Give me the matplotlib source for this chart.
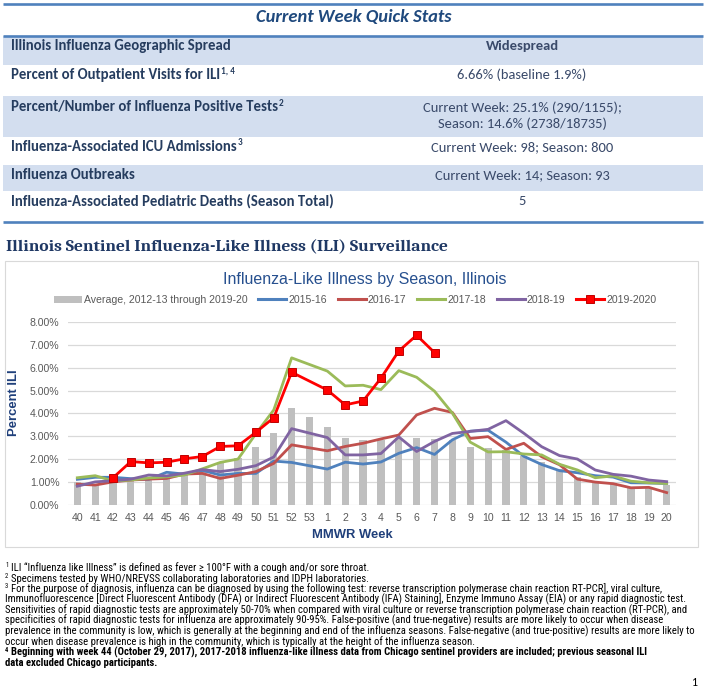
import matplotlib
matplotlib.use('Agg')
import matplotlib.pyplot as plt
import numpy as np
from matplotlib import font_manager as fm
from matplotlib.patches import Rectangle, Patch
from matplotlib.lines import Line2D
from matplotlib.ticker import FuncFormatter, MultipleLocator

# ---------------- data ----------------
weeks = ['40', '41', '42', '43', '44', '45', '46', '47', '48', '49', '50', '51', '52', '53',
         '1', '2', '3', '4', '5', '6', '7', '8', '9', '10', '11', '12', '13', '14', '15',
         '16', '17', '18', '19', '20']
nan = float('nan')
avg_2012_2020 = [0.98, 0.88, 1.03, 1.08, 1.10, 1.14, 1.30, 1.52, 1.88, 2.03, 2.54, 3.12, 4.23, 3.82,
                 3.42, 2.93, 2.83, 2.85, 2.93, 2.93, 2.86, 2.83, 2.54, 2.47, 2.38, 2.14, 1.85, 1.55,
                 1.20, 1.02, 0.96, 0.75, 0.72, 0.88]
s2015_16 = [1.11, 1.20, 1.20, 1.14, 1.11, 1.42, 1.34, 1.50, 1.30, 1.37, 1.37, 1.91, 1.85, nan,
            1.56, 1.86, 1.78, 1.87, 2.25, 2.50, 2.20, 2.84, 3.22, 3.26, 2.74, 2.12, 1.76, 1.49,
            1.40, 1.27, 1.21, 0.96, 0.95, 0.93]
s2016_17 = [0.90, 0.86, 1.00, 1.08, 1.12, 1.15, 1.34, 1.37, 1.15, 1.29, 1.45, 1.81, 2.62, nan,
            2.36, 2.55, 2.69, 2.88, 3.05, 3.93, 4.22, 4.04, 2.90, 2.98, 2.42, 2.69, 2.10, 1.75,
            1.12, 0.99, 0.92, 0.74, 0.76, 0.53]
s2017_18 = [1.18, 1.27, 1.04, 1.08, 1.17, 1.22, 1.30, 1.57, 1.85, 2.00, 3.11, 4.15, 6.43, nan,
            5.85, 5.20, 5.23, 5.04, 5.87, 5.58, 4.97, 4.01, 2.74, 2.31, 2.32, 2.22, 2.18, 1.77,
            1.52, 1.18, 1.26, 1.03, 0.96, 0.93]
s2018_19 = [0.81, 1.00, 1.05, 1.12, 1.30, 1.26, 1.38, 1.54, 1.45, 1.55, 1.71, 2.09, 3.33, nan,
            2.94, 2.18, 2.18, 2.24, 2.97, 2.33, 2.77, 3.12, 3.21, 3.30, 3.68, 3.13, 2.54, 2.15,
            2.00, 1.52, 1.33, 1.25, 1.08, 1.01]
s2019_20 = [nan, nan, 1.18, 1.89, 1.83, 1.86, 2.01, 2.11, 2.55, 2.58, 3.17, 3.81, 5.80, nan,
            5.02, 4.37, 4.54, 5.54, 6.73, 7.42, 6.66, nan, nan, nan, nan, nan, nan, nan,
            nan, nan, nan, nan, nan, nan]
series_names = ['2015-16', '2016-17', '2017-18', '2018-19', '2019-2020']
avg_name = 'Average, 2012-13 through 2019-20'

stat_labels = ["Illinois Influenza Geographic Spread",
               "Percent of Outpatient Visits for ILI",
               "Percent/Number of Influenza Positive Tests",
               "Influenza-Associated ICU Admissions",
               "Influenza Outbreaks",
               "Influenza-Associated Pediatric Deaths (Season Total)"]
stat_label_sups = ["", "1, 4", "2", "3", "", ""]
stat_values = [["Widespread"],
               ["6.66% (baseline 1.9%)"],
               ["Current Week: 25.1% (290/1155);", "Season: 14.6% (2738/18735)"],
               ["Current Week: 98; Season: 800"],
               ["Current Week: 14; Season: 93"],
               ["5"]]

footnotes = [
    ("1", "ILI \u201cInfluenza like Illness\u201d is defined as fever \u2265 100\u00b0F with a cough and/or sore throat.", False),
    ("2", "Specimens tested by WHO/NREVSS collaborating laboratories and IDPH laboratories.", False),
    ("3", "For the purpose of diagnosis, influenza can be diagnosed by using the following test: reverse transcription polymerase chain reaction RT-PCR], viral culture,", False),
    ("", "Immunofluorescence [Direct Fluorescent Antibody (DFA) or Indirect Fluorescent Antibody (IFA) Staining], Enzyme Immuno Assay (EIA) or any rapid diagnostic test.", False),
    ("", "Sensitivities of rapid diagnostic tests are approximately 50-70% when compared with viral culture or reverse transcription polymerase chain reaction (RT-PCR), and", False),
    ("", "specificities of rapid diagnostic tests for influenza are approximately 90-95%. False-positive (and true-negative) results are more likely to occur when disease", False),
    ("", "prevalence in the community is low, which is generally at the beginning and end of the influenza seasons. False-negative (and true-positive) results are more likely to", False),
    ("", "occur when disease prevalence is high in the community, which is typically at the height of the influenza season.", False),
    ("4", "Beginning with week 44 (October 29, 2017), 2017-2018 influenza-like illness data from Chicago sentinel providers are included; previous seasonal ILI", True),
    ("", "data excluded Chicago participants.", True),
]

# ---------------- setup ----------------
W, H, DPI = 714, 691, 100
names = {f.name for f in fm.fontManager.ttflist}


def pick(*cands):
    for c in cands:
        if c in names:
            return c
    return 'DejaVu Sans'


F_CAL = pick('Carlito', 'Lato', 'Open Sans')
F_CAM = pick('Caladea', 'Liberation Serif', 'DejaVu Serif')
F_ARIAL = pick('Liberation Sans', 'Arimo', 'DejaVu Sans')

# narrow font for the footnotes (Arial Narrow look), with fallbacks
F_NARROW, NARROW_STRETCH = None, 'normal'
for cand in ('Liberation Sans Narrow', 'Arial Narrow', 'Roboto Condensed',
             'Noto Sans Condensed', 'DejaVu Sans Condensed', 'Open Sans Condensed'):
    if cand in names:
        F_NARROW = cand
        break
if F_NARROW is None:
    for f in fm.fontManager.ttflist:
        if f.name in ('Liberation Sans', 'Noto Sans', 'DejaVu Sans', 'Roboto', 'Open Sans') \
                and str(f.stretch) in ('condensed', 'semi-condensed', '500', '400') is False:
            pass
    cond = [f for f in fm.fontManager.ttflist
            if f.name in ('Liberation Sans', 'Noto Sans', 'DejaVu Sans', 'Roboto', 'Open Sans')
            and str(f.stretch) in ('condensed', 'semi-condensed', 'extra-condensed')]
    if cond:
        F_NARROW, NARROW_STRETCH = cond[0].name, str(cond[0].stretch)
    else:
        F_NARROW = F_ARIAL

fig = plt.figure(figsize=(W / DPI, H / DPI), dpi=DPI)
fig.patch.set_facecolor('white')
renderer = fig.canvas.get_renderer()

bg = fig.add_axes([0, 0, 1, 1])
bg.set_xlim(0, W)
bg.set_ylim(H, 0)
bg.axis('off')


def fit_size(s, target, family, weight='normal', style='normal', base=10.0, stretch='normal'):
    t = bg.text(0, 0, s, fontsize=base, family=[family, 'DejaVu Sans'], weight=weight,
                style=style, fontstretch=stretch)
    w = t.get_window_extent(renderer=renderer).width
    t.remove()
    return base * target / w


def txt(x, y, s, **kw):
    fam = kw.pop('family', F_ARIAL)
    return bg.text(x, y, s, family=[fam, 'DejaVu Sans'], **kw)


def right_edge(t):
    return t.get_window_extent(renderer=renderer).x1


# ---------------- quick stats table ----------------
LINE_C = '#4F81BD'
SHADE_C = '#D3DEEF'
LABEL_C = '#263D5F'
VALUE_C = '#3A4A6A'
row_bounds = [(36, 65), (65, 96), (96, 136.7), (136.7, 165), (165, 190.7), (190.7, 222)]
row_text_y = [46.3, 75.0, 107.3, 146.7, 175.3, 200.8]
for i, (y0, y1) in enumerate(row_bounds):
    if i % 2 == 0:
        bg.add_patch(Rectangle((3, y0), 700, y1 - y0, facecolor=SHADE_C, edgecolor='none'))
for yy in (4, 36, 222):
    bg.plot([3, 703], [yy, yy], color=LINE_C, lw=1.9, solid_capstyle='butt')

fs_title = fit_size("Current Week Quick Stats", 196, F_CAL, 'bold', 'italic')
txt(354, 17, "Current Week Quick Stats", family=F_CAL, fontsize=fs_title, weight='bold',
    style='italic', color='#1F497D', ha='center', va='center')

fs_lab = fit_size(stat_labels[5], 320, F_CAL, 'bold')
fs_val = fit_size(stat_values[2][0], 199, F_CAL)
for i, lab in enumerate(stat_labels):
    t = txt(11, row_text_y[i], lab, family=F_CAL, fontsize=fs_lab, weight='bold',
            color=LABEL_C, ha='left', va='center')
    if stat_label_sups[i]:
        txt(right_edge(t) + 0.5, row_text_y[i] - 4, stat_label_sups[i], family=F_CAL,
            fontsize=fs_lab * 0.62, weight='bold', color=LABEL_C, ha='left', va='center')
    for j, v in enumerate(stat_values[i]):
        txt(522, row_text_y[i] + j * 16.7, v, family=F_CAL, fontsize=fs_val,
            weight='bold' if i == 0 else 'normal', color=VALUE_C, ha='center', va='center')

# ---------------- section heading ----------------
head = "Illinois Sentinel Influenza-Like Illness (ILI) Surveillance"
fs_head = fit_size(head, 443, F_CAM, 'bold')
txt(5.5, 247, head, family=F_CAM, fontsize=fs_head, weight='bold', color='#1F3864',
    ha='left', va='center')

# ---------------- chart ----------------
bg.add_patch(Rectangle((5, 261), 693, 286, facecolor='white', edgecolor='#D9D9D9', lw=0.8))
fs_ct = fit_size("Influenza-Like Illness by Season, Illinois", 283, F_ARIAL)
txt(365, 279.5, "Influenza-Like Illness by Season, Illinois", family=F_ARIAL, fontsize=fs_ct,
    color='#27508F', ha='center', va='center')

L, R, T, B = 68.4, 675.6, 322.0, 504.7
ax = fig.add_axes([L / W, 1 - B / H, (R - L) / W, (B - T) / H])
ax.set_facecolor('none')
x = np.arange(len(weeks))
ax.bar(x, avg_2012_2020, width=0.4, color='#BFBFBF', zorder=2)

colors = ['#4F81BD', '#C0504D', '#9BBB59', '#8064A2', '#FF0000']
all_series = [s2015_16, s2016_17, s2017_18, s2018_19, s2019_20]
handles = [Patch(facecolor='#BFBFBF', edgecolor='none')]
for k, (vals, c) in enumerate(zip(all_series, colors)):
    arr = np.array(vals, dtype=float)
    m = ~np.isnan(arr)
    if k == 4:
        ax.plot(x[m], arr[m], color=c, lw=2.0, zorder=4, marker='s', ms=5.6,
                mfc='#FF0000', mec='#C00000', mew=0.7, solid_joinstyle='round')
        handles.append(Line2D([], [], color=c, lw=2.2, marker='s', ms=5.6,
                              mfc='#FF0000', mec='#C00000', mew=0.7))
    else:
        ax.plot(x[m], arr[m], color=c, lw=2.0, zorder=3, solid_joinstyle='round')
        handles.append(Line2D([], [], color=c, lw=2.2))

ax.set_xlim(-0.5, len(weeks) - 0.5)
ax.set_ylim(0, 8)
ax.yaxis.set_major_locator(MultipleLocator(1))
ax.yaxis.set_major_formatter(FuncFormatter(lambda v, p: f'{v:.2f}%'))
ax.set_xticks(x)
ax.set_xticklabels(weeks)
ax.grid(axis='y', color='#D9D9D9', lw=0.9, zorder=0)
ax.set_axisbelow(True)
for sp in ax.spines.values():
    sp.set_visible(False)
ax.tick_params(axis='both', length=0, labelsize=7.6, labelcolor='#595959')
ax.tick_params(axis='y', pad=6.5)
ax.tick_params(axis='x', pad=6.0)
for lbl in ax.get_xticklabels() + ax.get_yticklabels():
    lbl.set_family([F_ARIAL, 'DejaVu Sans'])

leg = fig.legend(handles, [avg_name] + series_names, loc='center',
                 bbox_to_anchor=(355 / W, 1 - 300 / H), ncol=6, frameon=False,
                 handlelength=2.67, handletextpad=0.2, columnspacing=1.0,
                 labelcolor='#595959', prop={'family': [F_ARIAL, 'DejaVu Sans'], 'size': 7.6})

txt(14, 403, "Percent ILI", family=F_ARIAL, fontsize=9.4, weight='bold', color='#1F3F7A',
    rotation=90, ha='center', va='center')
txt(352, 535, "MMWR Week", family=F_ARIAL, fontsize=9.4, weight='bold', color='#1F3F7A',
    ha='center', va='center')

# ---------------- footnotes ----------------
fs_fn = fit_size(footnotes[6][1], 682, F_NARROW, stretch=NARROW_STRETCH)
for i, (sup, line, bold) in enumerate(footnotes):
    y = 568 + 10.5 * i
    w = 'bold' if bold else 'normal'
    x0 = 5
    if sup:
        st = txt(x0, y - 2.5, sup, family=F_NARROW, fontsize=fs_fn * 0.62, weight=w,
                 fontstretch=NARROW_STRETCH, color='black', ha='left', va='center')
        x0 = right_edge(st) + 2.5
    txt(x0, y, line, family=F_NARROW, fontsize=fs_fn, weight=w, fontstretch=NARROW_STRETCH,
        color='black', ha='left', va='center')

txt(694, 682, "1", family=F_CAL, fontsize=8.5, color='black', ha='center', va='center')

fig.savefig('out.png', dpi=DPI, facecolor='white')
